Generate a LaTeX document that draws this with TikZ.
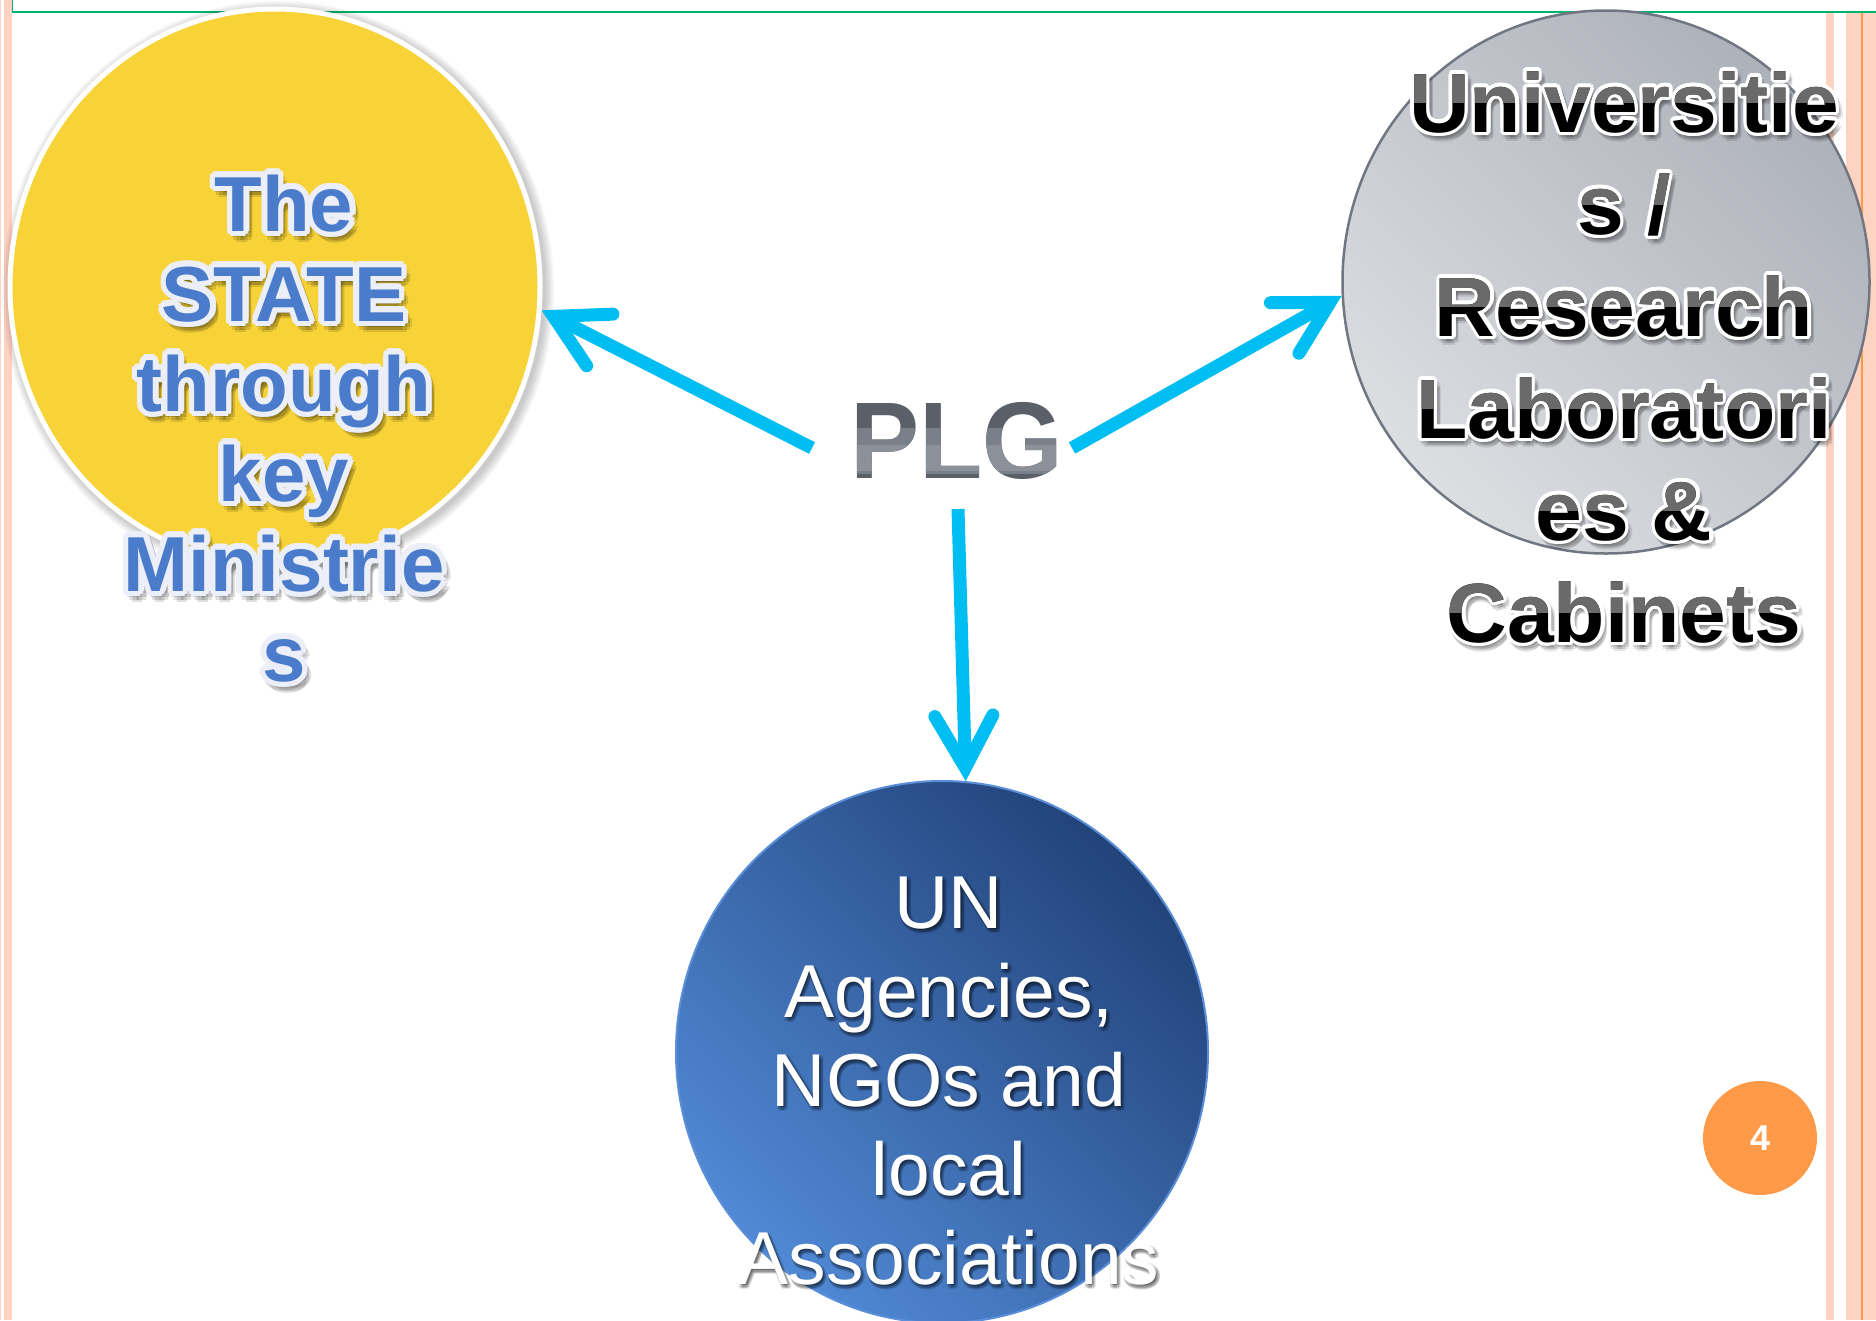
\documentclass[tikz,border=0pt]{standalone}
\usepackage{fontspec}
\setmainfont{Liberation Sans}
\usetikzlibrary{arrows.meta,shapes.geometric}
\definecolor{pinkc}{HTML}{FFD3C2}
\definecolor{orangec}{HTML}{FF9A48}
\definecolor{greenc}{HTML}{00B46E}
\definecolor{yellowc}{HTML}{F8D337}
\definecolor{statetxt}{HTML}{4A7CCB}
\definecolor{stateol}{HTML}{EDEFF8}
\definecolor{grayl}{HTML}{DCDEE2}
\definecolor{grayd}{HTML}{ADB1B9}
\definecolor{grayb}{HTML}{717782}
\definecolor{bluel}{HTML}{5089D5}
\definecolor{blued}{HTML}{22437A}
\definecolor{blueb}{HTML}{5B8ED8}
\definecolor{arrowc}{HTML}{00BEF2}
\definecolor{plga}{HTML}{5A5F68}
\definecolor{plgb}{HTML}{7A8089}
\definecolor{plgc}{HTML}{8C9199}
\definecolor{glossc}{HTML}{6A6A6A}
\tikzset{
  txtblock/.style={align=center, anchor=north, inner sep=0pt, outer sep=0pt},
  statefont/.style={txtblock, font=\fontsize{78}{90}\selectfont\bfseries},
  univfont/.style={txtblock, font=\fontsize{84}{102}\selectfont\bfseries},
  ngofont/.style={txtblock, font=\fontsize{75}{89}\selectfont},
  plgfont/.style={font=\fontsize{109}{120}\selectfont\bfseries, anchor=base, inner sep=0pt},
  bubble/.style={ellipse, inner sep=0pt},
  flow/.style={draw=arrowc, line width=13pt, -{Straight Barb[length=52pt,width=58pt,line cap=round,line join=miter]}},
}
\newcommand\txtState{\rule{0pt}{1em}The\\STATE\\through\\key\\Ministrie\\s}
\newcommand\txtUniv{\rule{0pt}{1em}Universitie\\s /\\Research\\Laboratori\\es \&\\Cabinets}
\newcommand\txtNgo{\rule{0pt}{1em}UN\\Agencies,\\NGOs and\\local\\Associations}
\newcommand\txtPlg{\scalebox{0.95}[1]{PLG}}
\begin{document}
\begin{tikzpicture}[x=1pt,y=-1pt]
\useasboundingbox (0,0) rectangle (1876,1320);
\fill[white] (0,0) rectangle (1876,1320);
% slide border
\fill[pinkc] (0,0) rectangle (1.2,1320);
\fill[pinkc] (4,0) rectangle (12,1320);
\fill[pinkc] (1826,12.7) rectangle (1834,1320);
\fill[pinkc] (1846,12.7) rectangle (1876,1320);
\fill[orangec] (1861,12.7) rectangle (1863,1320);
\draw[greenc, line width=1.7pt] (12.6,0) -- (12.6,11.8) -- (1876,11.8);
% yellow bubble with soft shadow
\foreach \k in {0,...,5}
  \fill[black, opacity=0.035] (278,290) ellipse [x radius={268+1.6*\k}, y radius={281+1.6*\k}];
\node[bubble, minimum width=530pt, minimum height=556pt, fill=yellowc, draw=white, line width=5pt] (state) at (275,287) {};
% grey bubble
\node[bubble, minimum width=527pt, minimum height=543pt, draw=grayb, line width=2.5pt,
      top color=grayd, bottom color=grayl, shading angle=-45] (univ) at (1606,282) {};
% blue bubble
\node[bubble, minimum width=532pt, minimum height=542pt, draw=blueb, line width=2pt,
      top color=blued, bottom color=bluel, shading angle=-45] (ngo) at (942,1052) {};
% connectors
\coordinate (ls) at (812,448);
\coordinate (rs) at (1072,448);
\coordinate (ds) at (958,509);
\draw[flow] (ls) -- (state.-5);
\draw[flow] (rs) -- (univ.183);
\draw[flow] (ds) -- (ngo.85);
% yellow label
\foreach \a [count=\i] in {0,45,...,315}
  \node[statefont, text=black, text opacity=0.12, shift={(4,6)}, shift={(\a:5)}] (stsh\i) at (284,153) {\txtState};
\foreach \a [count=\i] in {0,22.5,...,337.5}
  \node[statefont, text=stateol, shift={(\a:5.5)}] (stol\i) at (284,153) {\txtState};
\node[statefont, text=statetxt] (statelbl) at (284,153) {\txtState};
% grey label
\foreach \a [count=\i] in {0,45,...,315}
  \node[univfont, text=black, text opacity=0.1, shift={(3,5)}, shift={(\a:4)}] (unsh\i) at (1624,48) {\txtUniv};
\foreach \a [count=\i] in {0,22.5,...,337.5}
  \node[univfont, text=white, shift={(\a:3.5)}] (unol\i) at (1624,48) {\txtUniv};
\node[univfont, text=black] (univlbl) at (1624,48) {\txtUniv};
\begin{scope}
  \clip (1300,68) rectangle (1876,102) (1300,170) rectangle (1876,204)
        (1300,272) rectangle (1876,306) (1300,374) rectangle (1876,408)
        (1300,476) rectangle (1876,510) (1300,578) rectangle (1876,612);
  \node[univfont, text=glossc] (univgloss) at (1624,48) {\txtUniv};
\end{scope}
% blue label
\foreach \a [count=\i] in {0,45,...,315}
  \node[ngofont, text=black, text opacity=0.1, shift={(2,3)}, shift={(\a:2)}] (ngsh\i) at (949,853) {\txtNgo};
\node[ngofont, text=white] (ngolbl) at (949,853) {\txtNgo};
% PLG
\node[plgfont, text=plga] (plg) at (957,478) {\txtPlg};
\begin{scope}
  \clip (800,428) rectangle (1100,473);
  \node[plgfont, text=plgb] (plgmid) at (957,478) {\txtPlg};
\end{scope}
\begin{scope}
  \clip (800,445) rectangle (1100,470);
  \node[plgfont, text=plgc] (plglow) at (957,478) {\txtPlg};
\end{scope}
% page number
\node[circle, fill=orangec, minimum size=114pt, inner sep=0pt, text=white,
      font=\fontsize{36}{40}\selectfont\bfseries] (pnum) at (1760,1138) {4};
\end{tikzpicture}
\end{document}
